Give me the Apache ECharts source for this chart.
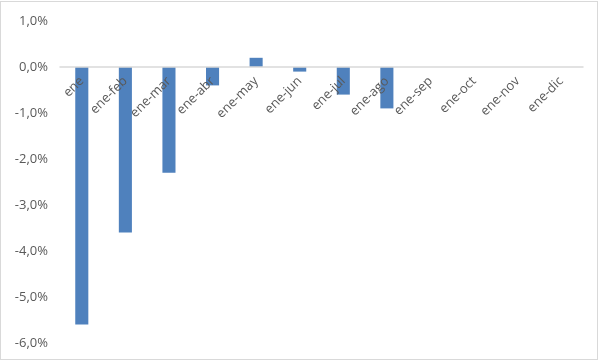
<!DOCTYPE html>
<html>
<head>
<meta charset="utf-8">
<script src="https://cdn.jsdelivr.net/npm/echarts@6/dist/echarts.min.js"></script>
<style>
html,body{margin:0;padding:0;background:#fff;}
#c{position:absolute;left:0;top:1px;width:596px;height:357px;border:1px solid #d9d9d9;}
</style>
</head>
<body>
<div id="c"></div>
<script>
var categories = ['ene','ene-feb','ene-mar','ene-abr','ene-may','ene-jun','ene-jul','ene-ago','ene-sep','ene-oct','ene-nov','ene-dic'];
var values = [-5.6, -3.6, -2.3, -0.4, 0.2, -0.1, -0.6, -0.9, null, null, null, null];
var yMin = -6, yMax = 1, yStep = 1;

var gridTop = 19, gridBottom = 16, boxH = 357;
var plotH = boxH - gridTop - gridBottom;
var zeroOffset = -plotH * (0 - yMin) / (yMax - yMin);

var chart = echarts.init(document.getElementById('c'), null, {renderer:'canvas'});
chart.setOption({
  animation: false,
  grid: {left: 59, right: 14, top: gridTop, bottom: gridBottom, containLabel: false, outerBoundsMode: 'none'},
  xAxis: {
    type: 'category',
    data: categories,
    offset: zeroOffset,
    axisLine: {onZero: false, lineStyle: {color: '#d9d9d9', width: 1.5}},
    axisTick: {show: false},
    axisLabel: {rotate: 45, interval: 0, margin: 12, color: '#595959', fontSize: 13, fontFamily: 'Open Sans'},
    splitLine: {show: false},
    z: 5
  },
  yAxis: {
    type: 'value',
    min: yMin, max: yMax, interval: yStep,
    axisLine: {show: false},
    axisTick: {show: false},
    splitLine: {show: false},
    axisLabel: {color: '#595959', fontSize: 13, fontFamily: 'Open Sans', margin: 12,
      formatter: function(v){ return v.toFixed(1).replace('.', ',') + '%'; }}
  },
  series: [{
    type: 'bar',
    data: values,
    barWidth: '30%',
    itemStyle: {color: '#4f81bd'},
    z: 2
  }]
});
</script>
</body>
</html>
